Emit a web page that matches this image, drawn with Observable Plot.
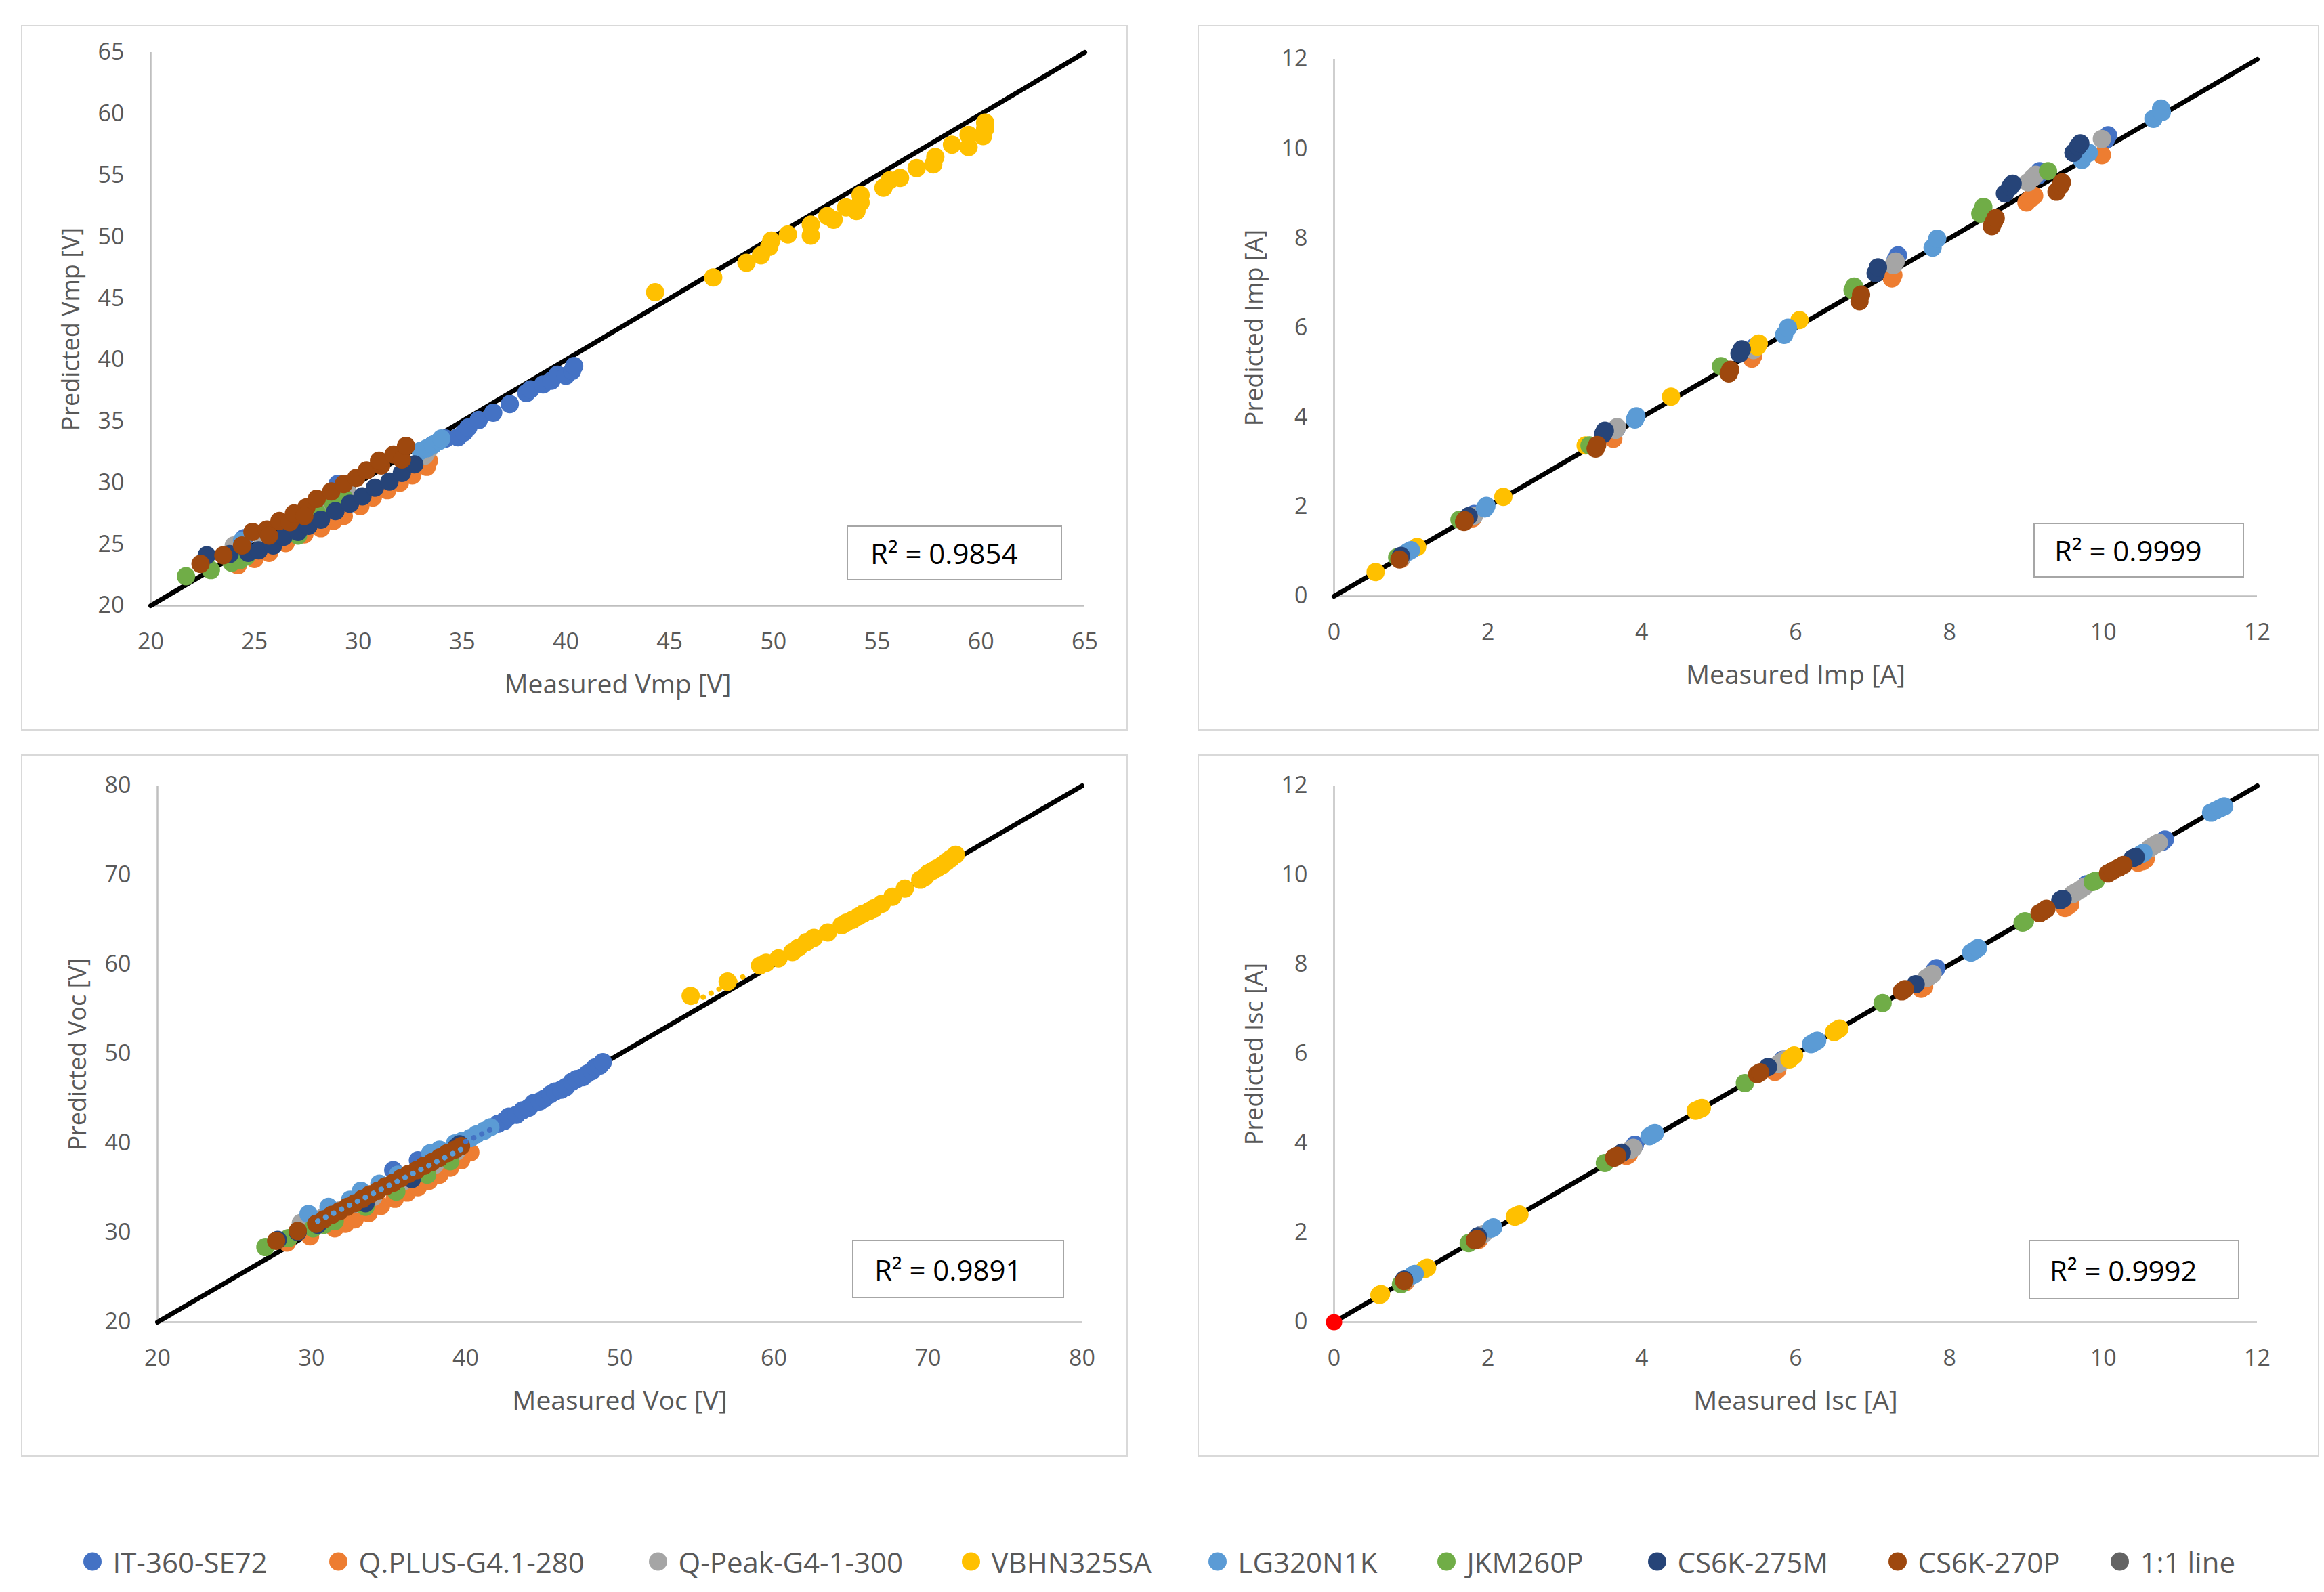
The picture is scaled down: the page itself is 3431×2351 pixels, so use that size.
<!DOCTYPE html>
<html>
<head>
<meta charset="utf-8">
<script src="https://cdn.jsdelivr.net/npm/d3@7"></script>
<script src="https://cdn.jsdelivr.net/npm/@observablehq/plot@0.6"></script>
<style>
  html, body { margin: 0; padding: 0; background: #fff; }
  body { width: 3431px; height: 2351px; position: relative; overflow: hidden; font-family: "Open Sans", sans-serif; }
  .panel { position: absolute; }
  .frame { position: absolute; inset: 0; border: 2px solid #D9D9D9; box-sizing: border-box; pointer-events: none; }
  .panel svg { position: absolute; left: 0; top: 0; }
  .r2 { position: absolute; border: 2px solid #A6A6A6; box-sizing: border-box; background: #fff;
        font-family: "Open Sans", sans-serif; font-size: 42px; color: #000; display: flex; align-items: center; white-space: nowrap; }
  .leg { position: absolute; top: 2306px; display: flex; align-items: center; transform: translateY(-50%);
         font-family: "Open Sans", sans-serif; font-size: 42px; color: #595959; white-space: nowrap; }
  .leg i { display: inline-block; width: 27px; height: 27px; border-radius: 50%; margin-right: 17px; }
</style>
</head>
<body>
<script>
// ---------- series ----------
const seriesNames  = ["IT-360-SE72", "Q.PLUS-G4.1-280", "Q-Peak-G4-1-300", "VBHN325SA", "LG320N1K", "JKM260P", "CS6K-275M", "CS6K-270P"];
const seriesColors = ["#4472C4", "#ED7D31", "#A5A5A5", "#FFC000", "#5B9BD5", "#70AD47", "#264478", "#9E480E"];
const lineName = "1:1 line";
const lineLegendColor = "#636363";
const r2Values = ["0.9854", "0.9999", "0.9891", "0.9992"];

// ---------- axis ranges / ticks ----------
const vmpDomain = [20, 65]; const vmpTicks = [20, 25, 30, 35, 40, 45, 50, 55, 60, 65];
const impDomain = [0, 12];  const impTicks = [0, 2, 4, 6, 8, 10, 12];
const vocDomain = [20, 80]; const vocTicks = [20, 30, 40, 50, 60, 70, 80];
const iscDomain = [0, 12];  const iscTicks = [0, 2, 4, 6, 8, 10, 12];

// ---------- Vmp [measured, predicted] ----------
const vmp_IT360 = [[24.5,25.5],[27.6,27.6],[29.0,29.9],[33.6,33.1],[34.2,33.6],[34.8,33.7],[35.1,34.1],[35.3,34.5],[35.8,35.1],[36.5,35.7],[37.3,36.4],[38.1,37.3],[38.3,37.6],[38.9,38.0],[39.3,38.3],[39.6,38.8],[40.0,38.7],[40.3,39.1],[40.4,39.5]];
const vmp_QPlus = [[24.2,23.3],[25.0,23.8],[25.7,24.3],[26.5,25.1],[27.4,25.8],[28.2,26.3],[28.8,26.9],[29.3,27.3],[30.1,28.1],[30.7,28.8],[31.4,29.4],[32.0,30.0],[32.6,30.6],[33.3,31.3],[33.4,31.8]];
const vmp_QPeak = [[24.0,24.9],[25.4,25.3],[28.4,28.4],[29.5,29.2],[33.2,32.2],[33.4,32.7]];
const vmp_VBHN  = [[44.3,45.5],[47.1,46.7],[48.7,47.9],[49.4,48.5],[49.8,49.2],[49.9,49.7],[50.7,50.2],[51.8,50.1],[51.8,51.0],[52.6,51.7],[52.9,51.4],[53.5,52.4],[54.0,52.1],[54.2,52.8],[54.2,53.4],[55.3,54.0],[55.6,54.6],[56.1,54.8],[56.9,55.6],[57.7,55.9],[57.8,56.5],[58.6,57.5],[59.4,57.3],[59.4,58.3],[60.1,58.2],[60.2,58.8],[60.2,59.3]];
const vmp_LG    = [[24.4,25.3],[33.0,32.6],[33.3,32.8],[33.6,33.1],[33.9,33.4],[34.0,33.6]];
const vmp_JKM   = [[21.7,22.4],[22.9,22.9],[23.9,23.5],[24.3,23.7],[24.6,24.0],[27.1,25.7],[28.0,27.6],[28.8,28.3],[29.3,28.8]];
const vmp_CS275 = [[22.7,24.1],[23.8,24.2],[24.7,24.3],[25.2,24.5],[25.9,24.9],[26.4,25.6],[27.1,26.0],[27.6,26.5],[28.2,27.0],[28.9,27.7],[29.6,28.3],[30.2,28.9],[30.8,29.6],[31.5,30.1],[32.1,30.8],[32.7,31.5]];
const vmp_CS270 = [[22.4,23.4],[23.5,24.1],[24.4,24.9],[24.9,26.0],[25.6,26.2],[25.7,25.7],[26.2,26.9],[26.7,26.8],[26.9,27.5],[27.5,28.0],[27.4,27.3],[28.0,28.7],[28.7,29.3],[29.3,29.9],[29.9,30.4],[30.4,31.0],[31.1,31.4],[31.0,31.8],[31.7,32.3],[32.1,31.9],[32.3,33.0]];

// ---------- Imp [measured, predicted] ----------
const imp_IT360 = [[1.82,1.84],[3.67,3.74],[5.47,5.58],[7.30,7.52],[7.33,7.62],[9.15,9.40],[9.17,9.50],[10.03,10.20],[10.06,10.30]];
const imp_QPlus = [[0.87,0.83],[1.80,1.74],[3.63,3.52],[5.43,5.31],[5.45,5.38],[7.25,7.10],[7.27,7.18],[9.00,8.80],[9.05,8.88],[9.10,8.95],[9.98,9.86]];
const imp_QPeak = [[0.88,0.86],[1.82,1.80],[3.66,3.72],[3.68,3.78],[5.45,5.50],[7.27,7.40],[7.30,7.48],[9.02,9.25],[9.08,9.35],[9.12,9.42],[9.98,10.22]];
const imp_VBHN  = [[0.54,0.54],[1.08,1.10],[2.20,2.22],[3.27,3.37],[4.38,4.46],[5.50,5.58],[5.52,5.65],[6.05,6.17]];
const imp_LG    = [[0.96,0.99],[1.00,1.03],[1.96,1.96],[1.98,2.02],[3.91,3.95],[3.93,4.02],[5.85,5.84],[5.90,6.00],[7.78,7.79],[7.84,7.99],[9.72,9.75],[9.81,9.91],[10.65,10.67],[10.75,10.90],[10.76,10.82]];
const imp_JKM   = [[0.82,0.87],[1.63,1.71],[3.32,3.37],[5.03,5.14],[6.74,6.84],[6.76,6.92],[8.40,8.55],[8.44,8.70],[9.28,9.50]];
const imp_CS275 = [[0.87,0.90],[1.75,1.79],[3.50,3.63],[3.52,3.70],[5.27,5.42],[5.30,5.52],[7.04,7.22],[7.07,7.35],[8.72,9.00],[8.79,9.15],[8.82,9.22],[9.61,9.91],[9.67,10.05],[9.70,10.12]];
const imp_CS270 = [[0.85,0.82],[1.69,1.66],[1.70,1.70],[3.40,3.30],[3.42,3.38],[5.13,4.98],[5.15,5.06],[6.83,6.59],[6.85,6.74],[8.55,8.27],[8.58,8.38],[8.60,8.45],[9.39,9.04],[9.44,9.17],[9.46,9.25]];

// ---------- Voc [measured, predicted] ----------
const voc_IT360 = [[35.3,37.0],[36.9,38.1],[39.6,40.0],[42.1,42.2],[42.5,42.5],[42.8,43.0],[43.3,43.2],[43.7,43.7],[44.1,44.0],[44.4,44.5],[44.8,44.7],[45.1,45.0],[45.5,45.5],[45.8,45.8],[46.2,46.0],[46.5,46.3],[46.9,46.9],[47.2,47.2],[47.6,47.4],[47.9,47.8],[48.2,48.1],[48.4,48.5],[48.7,48.7],[48.9,49.1]];
const voc_QPlus = [[28.4,28.9],[29.9,29.6],[31.5,30.5],[32.2,31.0],[32.8,31.5],[33.7,32.2],[34.5,33.0],[35.4,33.8],[36.2,34.5],[36.9,35.1],[37.6,35.8],[38.3,36.5],[39.0,37.3],[39.7,38.1],[40.3,39.0]];
const voc_QPeak = [[29.3,31.1],[30.8,31.8],[31.8,32.5],[32.8,33.2],[34.0,34.0],[36.0,35.8],[38.0,37.6],[39.4,39.1]];
const voc_VBHN  = [[54.6,56.5],[57.0,58.1],[59.1,59.9],[59.5,60.2],[60.3,60.7],[61.2,61.4],[61.6,61.9],[62.1,62.5],[62.6,63.0],[63.5,63.6],[64.4,64.4],[64.7,64.7],[65.1,65.0],[65.5,65.4],[65.8,65.7],[66.2,66.0],[66.5,66.3],[67.0,66.8],[67.7,67.6],[68.5,68.5],[69.5,69.5],[69.8,69.8],[70.0,70.2],[70.3,70.5],[70.6,70.8],[70.9,71.1],[71.2,71.5],[71.5,71.9],[71.8,72.3]];
const voc_LG    = [[29.8,32.1],[31.1,32.9],[32.5,33.7],[33.2,34.7],[34.4,35.5],[35.6,36.5],[37.7,38.9],[38.3,39.3],[39.3,40.0],[39.8,40.3],[40.3,40.6],[40.7,41.0],[41.2,41.4],[41.6,41.8]];
const voc_JKM   = [[27.0,28.4],[28.5,29.4],[30.1,30.5],[30.8,30.9],[31.5,31.3],[33.5,32.9],[35.5,34.6],[37.5,36.5],[39.0,38.0]];
const voc_CS275 = [[27.8,29.2],[29.1,30.1],[30.4,30.9],[33.5,33.3],[36.5,36.0],[39.4,39.6],[39.6,39.9]];
const voc_CS270 = [[27.7,29.1],[29.1,30.2],[30.3,31.0],[30.8,31.5],[31.3,32.0],[31.8,32.4],[32.3,32.9],[32.8,33.3],[33.3,33.8],[33.8,34.3],[34.3,34.7],[34.8,35.2],[35.3,35.6],[35.8,36.1],[36.3,36.6],[36.8,37.0],[37.3,37.5],[37.8,37.9],[38.3,38.4],[38.8,38.9],[39.3,39.3],[39.7,39.7]];
// dotted trend segments visible in the Voc panel
const voc_trendLG   = [[30.4,31.3],[39.9,39.5]];
const voc_trendIT   = [[40.0,40.2],[41.7,41.6]];
const voc_trendVBHN = [[54.9,55.9],[58.3,58.9]];

// ---------- Isc [measured, predicted] ----------
const isc_IT360 = [[0.95,0.97],[1.92,1.96],[3.91,3.97],[5.83,5.87],[7.80,7.86],[7.83,7.92],[9.78,9.80],[10.77,10.75],[10.80,10.80]];
const isc_QPlus = [[0.93,0.90],[1.88,1.84],[3.80,3.72],[3.83,3.75],[5.73,5.60],[5.76,5.64],[7.63,7.46],[7.67,7.50],[9.50,9.27],[9.53,9.30],[9.57,9.35],[10.45,10.28],[10.51,10.31],[10.55,10.36]];
const isc_QPeak = [[0.94,0.95],[1.90,1.92],[1.94,1.97],[3.85,3.85],[3.89,3.90],[5.78,5.78],[5.82,5.83],[5.86,5.88],[7.70,7.70],[7.74,7.74],[7.78,7.79],[9.60,9.58],[9.64,9.62],[9.70,9.68],[9.76,9.75],[10.60,10.60],[10.64,10.65],[10.68,10.69],[10.72,10.73]];
const isc_VBHN  = [[0.59,0.61],[0.61,0.63],[1.18,1.19],[1.21,1.22],[2.35,2.36],[2.38,2.39],[2.41,2.41],[4.70,4.73],[4.74,4.76],[4.78,4.79],[5.92,5.88],[5.95,5.93],[5.98,5.97],[6.50,6.49],[6.53,6.53],[6.57,6.57]];
const isc_LG    = [[1.02,1.05],[1.05,1.08],[2.04,2.09],[2.07,2.12],[4.10,4.16],[4.13,4.19],[4.17,4.23],[6.20,6.22],[6.24,6.26],[6.28,6.30],[8.28,8.27],[8.32,8.31],[8.37,8.37],[10.49,10.47],[10.52,10.50],[11.40,11.40],[11.46,11.45],[11.52,11.50],[11.57,11.54]];
const isc_JKM   = [[0.87,0.85],[1.75,1.77],[3.52,3.56],[5.34,5.35],[7.13,7.14],[8.95,8.94],[8.98,8.97],[9.86,9.85],[9.90,9.88]];
const isc_CS275 = [[0.91,0.95],[1.87,1.92],[3.74,3.79],[5.64,5.71],[7.56,7.56],[9.44,9.44],[9.47,9.47],[10.38,10.38],[10.42,10.41]];
const isc_CS270 = [[0.91,0.92],[1.83,1.83],[1.86,1.86],[3.64,3.68],[3.68,3.72],[5.50,5.55],[5.54,5.59],[7.38,7.40],[7.42,7.45],[9.17,9.15],[9.21,9.19],[9.26,9.25],[10.06,10.04],[10.12,10.10],[10.20,10.17],[10.26,10.23]];
const isc_origin = [[0, 0]];

// ---------- build ----------
const TEXT = "#595959";
const color = {domain: seriesNames, range: seriesColors};

function table(lists) {
  const rows = [];
  lists.forEach((list, k) => list.forEach(([m, p]) => rows.push({series: seriesNames[k], m, p})));
  return rows;
}

function makePanel(cfg) {
  const {L, T, W, H, ml, mr, mt, mb, domain, ticks, lists, xLabel, yLabel, r2, box, extra = []} = cfg;
  const div = document.createElement("div");
  div.className = "panel";
  Object.assign(div.style, {left: L + "px", top: T + "px", width: W + "px", height: H + "px"});
  const rows = table(lists);
  const svg = Plot.plot({
    width: W, height: H,
    marginLeft: ml, marginRight: mr, marginTop: mt, marginBottom: mb,
    style: {fontFamily: "'Open Sans', sans-serif", fontSize: "34px", color: TEXT, background: "transparent", overflow: "visible"},
    x: {domain, ticks, label: null},
    y: {domain, ticks, label: null},
    color,
    marks: [
      Plot.ruleY([domain[0]], {stroke: "#BFBFBF", strokeWidth: 2.5}),
      Plot.ruleX([domain[0]], {stroke: "#BFBFBF", strokeWidth: 2.5}),
      Plot.axisX({ticks, tickSize: 0, tickPadding: 40, fontSize: 34, fill: TEXT, label: null}),
      Plot.axisY({ticks, tickSize: 0, tickPadding: 39, fontSize: 34, fill: TEXT, label: null}),
      Plot.line(domain.map(v => [v, v]), {stroke: "#000", strokeWidth: 7}),
      Plot.dot(rows, {x: "m", y: "p", fill: "series", r: 13.5}),
      ...extra,
      Plot.text([xLabel], {frameAnchor: "bottom", dy: 117, lineAnchor: "middle", textAnchor: "middle", fontSize: 39, fill: TEXT}),
      Plot.text([yLabel], {frameAnchor: "left", dx: -117, rotate: -90, lineAnchor: "middle", textAnchor: "middle", fontSize: 36, fill: TEXT, letterSpacing: "1px"})
    ]
  });
  div.appendChild(svg);
  const fr = document.createElement("div"); fr.className = "frame"; div.appendChild(fr);
  const b = document.createElement("div");
  b.className = "r2";
  Object.assign(b.style, {left: box[0] + "px", top: box[1] + "px", width: box[2] + "px", height: box[3] + "px", paddingLeft: box[4] + "px"});
  b.textContent = "R\u00B2 = " + r2;
  div.appendChild(b);
  document.body.appendChild(div);
}

const dotted = (data, stroke) => Plot.line(data, {stroke, strokeWidth: 8, strokeLinecap: "round", strokeDasharray: "0.1 13"});

makePanel({L: 31, T: 37, W: 1634, H: 1042, ml: 191, mr: 64, mt: 40, mb: 185,
  domain: vmpDomain, ticks: vmpTicks,
  lists: [vmp_IT360, vmp_QPlus, vmp_QPeak, vmp_VBHN, vmp_LG, vmp_JKM, vmp_CS275, vmp_CS270],
  xLabel: "Measured Vmp [V]", yLabel: "Predicted Vmp [V]", r2: r2Values[0], box: [1219, 739, 318, 81, 33]});

makePanel({L: 1768, T: 37, W: 1656, H: 1042, ml: 201, mr: 92, mt: 50, mb: 199,
  domain: impDomain, ticks: impTicks,
  lists: [imp_IT360, imp_QPlus, imp_QPeak, imp_VBHN, imp_LG, imp_JKM, imp_CS275, imp_CS270],
  xLabel: "Measured Imp [A]", yLabel: "Predicted Imp [A]", r2: r2Values[1], box: [1234, 735, 311, 81, 29]});

makePanel({L: 31, T: 1114, W: 1634, H: 1037, ml: 201, mr: 68, mt: 46, mb: 199,
  domain: vocDomain, ticks: vocTicks,
  lists: [voc_IT360, voc_QPlus, voc_QPeak, voc_VBHN, voc_LG, voc_JKM, voc_CS275, voc_CS270],
  extra: [dotted(voc_trendLG, seriesColors[4]), dotted(voc_trendIT, seriesColors[0]), dotted(voc_trendVBHN, seriesColors[3])],
  xLabel: "Measured Voc [V]", yLabel: "Predicted Voc [V]", r2: r2Values[2], box: [1227, 717, 313, 86, 31]});

makePanel({L: 1768, T: 1114, W: 1656, H: 1037, ml: 201, mr: 92, mt: 46, mb: 199,
  domain: iscDomain, ticks: iscTicks,
  lists: [isc_IT360, isc_QPlus, isc_QPeak, isc_VBHN, isc_LG, isc_JKM, isc_CS275, isc_CS270],
  extra: [Plot.dot(isc_origin, {x: d => d[0], y: d => d[1], fill: "#FF0000", r: 12})],
  xLabel: "Measured Isc [A]", yLabel: "Predicted Isc [A]", r2: r2Values[3], box: [1227, 717, 311, 88, 29]});

// ---------- legend ----------
const legendX = [136, 499, 971, 1433, 1797, 2135, 2446, 2801, 3129];
const legendItems = seriesNames.map((n, i) => [n, seriesColors[i]]).concat([[lineName, lineLegendColor]]);
legendItems.forEach(([name, c], i) => {
  const el = document.createElement("div");
  el.className = "leg";
  el.style.left = (legendX[i] - 13.5) + "px";
  const m = document.createElement("i"); m.style.background = c;
  el.appendChild(m);
  el.appendChild(document.createTextNode(name));
  document.body.appendChild(el);
});
</script>
</body>
</html>
